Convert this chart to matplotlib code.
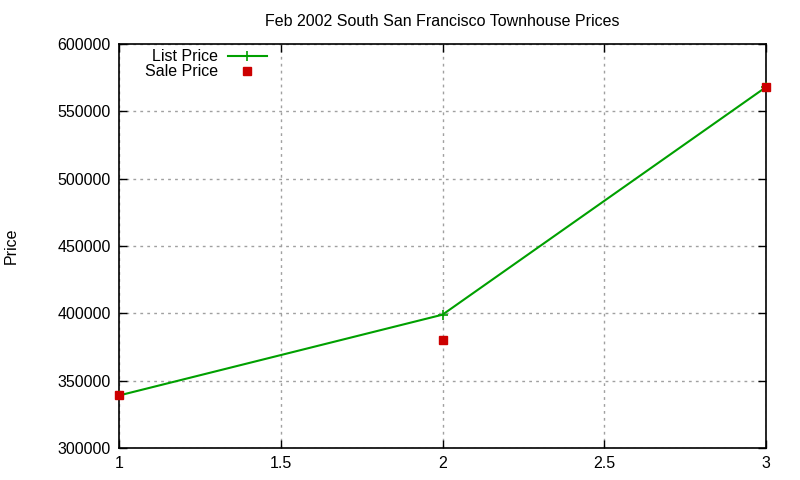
import matplotlib.pyplot as plt
from matplotlib.ticker import FuncFormatter

plt.rcParams['font.family'] = ['Liberation Sans', 'DejaVu Sans']

x = [1, 2, 3]
list_price = [339000, 399000, 568000]
sale_price = [339000, 380000, 568000]

fig = plt.figure(figsize=(8, 4.8), dpi=100)
ax = fig.add_axes([119/800, 1-448/480, (766-119)/800, (448-44)/480])

ax.plot(x, list_price, '-', color='#00a000', linewidth=1.5, marker='+',
        markersize=7, markeredgewidth=1.2, label='List Price', zorder=3)
ax.plot(x, sale_price, 's', color='#cc0000', markersize=6, linestyle='none',
        label='Sale Price', zorder=4, clip_on=False)

ax.set_xlim(1, 3)
ax.set_ylim(300000, 600000)
ax.set_xticks([1, 1.5, 2, 2.5, 3])
ax.set_yticks(range(300000, 600001, 50000))
ax.xaxis.set_major_formatter(FuncFormatter(lambda v, p: '%g' % v))
ax.yaxis.set_major_formatter(FuncFormatter(lambda v, p: '%d' % v))
ax.tick_params(direction='in', top=True, right=True, length=6, width=1,
               labelsize=11.5, pad=6)
ax.grid(True, color='#a0a0a0', linestyle=(0, (2, 3)), linewidth=1)
for s in ax.spines.values():
    s.set_linewidth(1.2)

ax.set_title('Feb 2002 South San Francisco Townhouse Prices', fontsize=11.5, pad=13)
ax.set_ylabel('Price', fontsize=11.5, labelpad=28)

ax.legend(loc='upper left', frameon=False, markerfirst=False, fontsize=11.5,
          handlelength=2.5, borderaxespad=0.0, labelspacing=0.0,
          bbox_to_anchor=(0.03, 1.003), handletextpad=0.6)

fig.savefig('out.png', dpi=100)
